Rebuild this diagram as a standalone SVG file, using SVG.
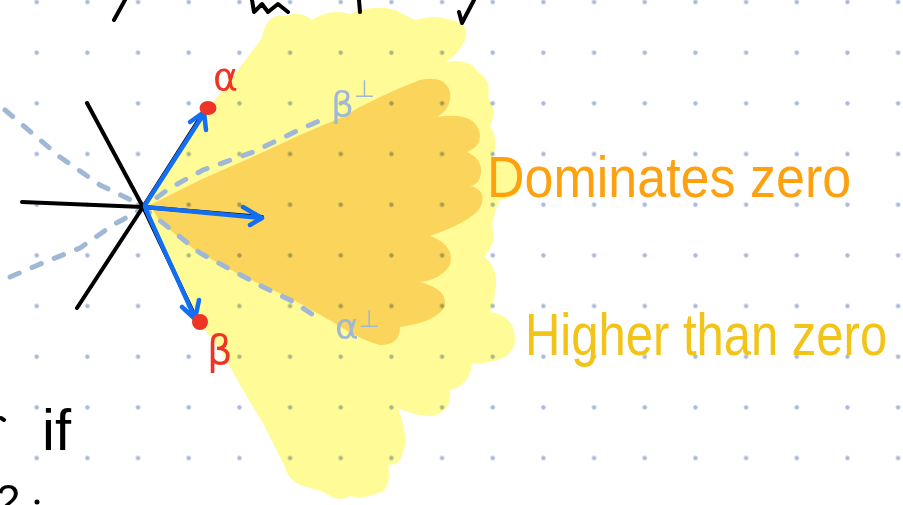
<svg xmlns="http://www.w3.org/2000/svg" width="903" height="505" viewBox="0 0 903 505">
<defs>
<pattern id="grid" x="11.37" y="-23.33" width="50.67" height="50.67" patternUnits="userSpaceOnUse">
<circle cx="25.33" cy="25.33" r="2.2" fill="#a9b9d9"/>
</pattern>
<style>
.ink{fill:none;stroke:#000;stroke-width:4;stroke-linecap:round;stroke-linejoin:round}
.dash{fill:none;stroke:#9fb8d6;stroke-width:5;stroke-linecap:round;stroke-dasharray:10 14}
.arrow{fill:none;stroke:#126ef3;stroke-width:4.5;stroke-linecap:round;stroke-linejoin:round}
.red{fill:#ee3424}
.greek{font-family:"DejaVu Sans","Liberation Sans",sans-serif}
.hand{font-family:"Liberation Sans","DejaVu Sans",sans-serif}
</style>
</defs>
<rect width="903" height="505" fill="#fff"/>
<g id="higher-region">
<path fill="#fffc98" d="M143,207 L180,150 L215,100 L247,58 L262,38 Q266,12 287,16 Q300,10 312,20 Q330,8 350,14 Q372,4 395,10 Q410,18 415,20 Q435,14 450,20 Q470,22 465,40 Q460,52 446,62 Q470,58 478,72 Q492,80 488,98 Q498,110 490,126 Q500,140 492,158 Q520,160 522,178 Q524,196 500,200 Q494,212 492,226 Q498,242 484,256 Q500,270 495,292 Q494,304 490,312 Q515,315 515,340 Q515,362 472,364 Q470,385 450,390 Q452,412 432,416 Q418,417 398,408 Q410,440 402,455 Q400,465 388,465 Q392,490 378,493 Q360,500 350,496 Q340,503 325,493 Q312,488 300,485 Q288,480 284,465 L264,425 L240,385 L222,352 L205,330 L185,290 L160,240 Z"/>
</g>
<g id="dominates-region">
<path fill="#fbd45b" d="M150,205 L200,180 L250,158 L300,135 L340,118 Q380,95 420,80 Q445,75 450,92 Q452,108 437,117 Q470,112 478,128 Q485,145 467,152 Q485,160 480,178 Q476,186 470,186 Q488,190 480,208 Q470,222 430,236 Q455,245 450,265 Q440,280 420,282 Q450,290 444,308 Q435,322 400,327 Q400,345 380,345 Q360,340 333,322 L290,298 L240,275 L195,250 L160,222 Z"/>
</g>
<rect width="903" height="505" fill="url(#grid)" style="mix-blend-mode:multiply"/>
<g id="connectors">
<path class="dash" d="M10,277 L45,262 L80,248 L113,225 L140,210 L170,188 L203,170 L253,152 L303,128 L328,117"/>
<path class="dash" d="M5,110 L25,127 L60,157 L100,185 L135,202 L153,215 L200,253 L263,287 L290,300 L315,316 L308,318"/>
<path class="ink" d="M87,103 L143,207 L197,320"/>
<path class="ink" d="M22,202 L143,207 L262,217"/>
<path class="ink" d="M77,308 L143,207 L205,110"/>
<path class="arrow" d="M145,205 L205,112 M190,122 L204,112 L206,130"/>
<path class="arrow" d="M145,207 L262,218 M243,207 L262,218 L250,225"/>
<path class="arrow" d="M146,210 L195,318 M182,307 L195,319 L199,300"/>
</g>
<g id="alpha-point">
<ellipse class="red" cx="208" cy="108" rx="8.5" ry="7"/>
<text class="greek" x="213" y="90" font-size="38" fill="#ee3424">α</text>
</g>
<g id="beta-point">
<circle class="red" cx="200" cy="322" r="8"/>
<text class="greek" x="207" y="364" font-size="40" fill="#ee3424">β</text>
</g>
<g id="beta-perp-label">
<text class="greek" x="331" y="117" font-size="36" fill="#9fb8d6">β<tspan dy="-20" font-size="24">⊥</tspan></text>
</g>
<g id="alpha-perp-label">
<text class="greek" x="335" y="339" font-size="36" fill="#9fb8d6">α<tspan dy="-12" font-size="24">⊥</tspan></text>
</g>
<g id="dominates-label">
<text class="hand" x="487" y="197" font-size="52" fill="#fda10f" transform="translate(0,-20) scale(1,1.1)">Dominates zero</text>
</g>
<g id="higher-label">
<text class="hand" x="525" y="296" font-size="49" fill="#f2c418" transform="scale(1,1.2)">Higher than zero</text>
</g>
<g id="fragments">
<path class="ink" d="M114,20 L125,0"/>
<path class="ink" d="M252,0 L254,12 L262,4 L268,12 L278,4 L288,12"/>
<path class="ink" d="M359,0 L360,12"/>
<path class="ink" d="M459,12 L462,23 L474,0"/>
<path class="ink" d="M1,418 L4,420"/>
<text class="hand" x="42" y="450" font-size="58" fill="#000">if</text>
<text class="hand" x="-4" y="516" font-size="44" fill="#000">2</text>
<circle cx="37" cy="502" r="2.5" fill="#000"/>
</g>
</svg>
